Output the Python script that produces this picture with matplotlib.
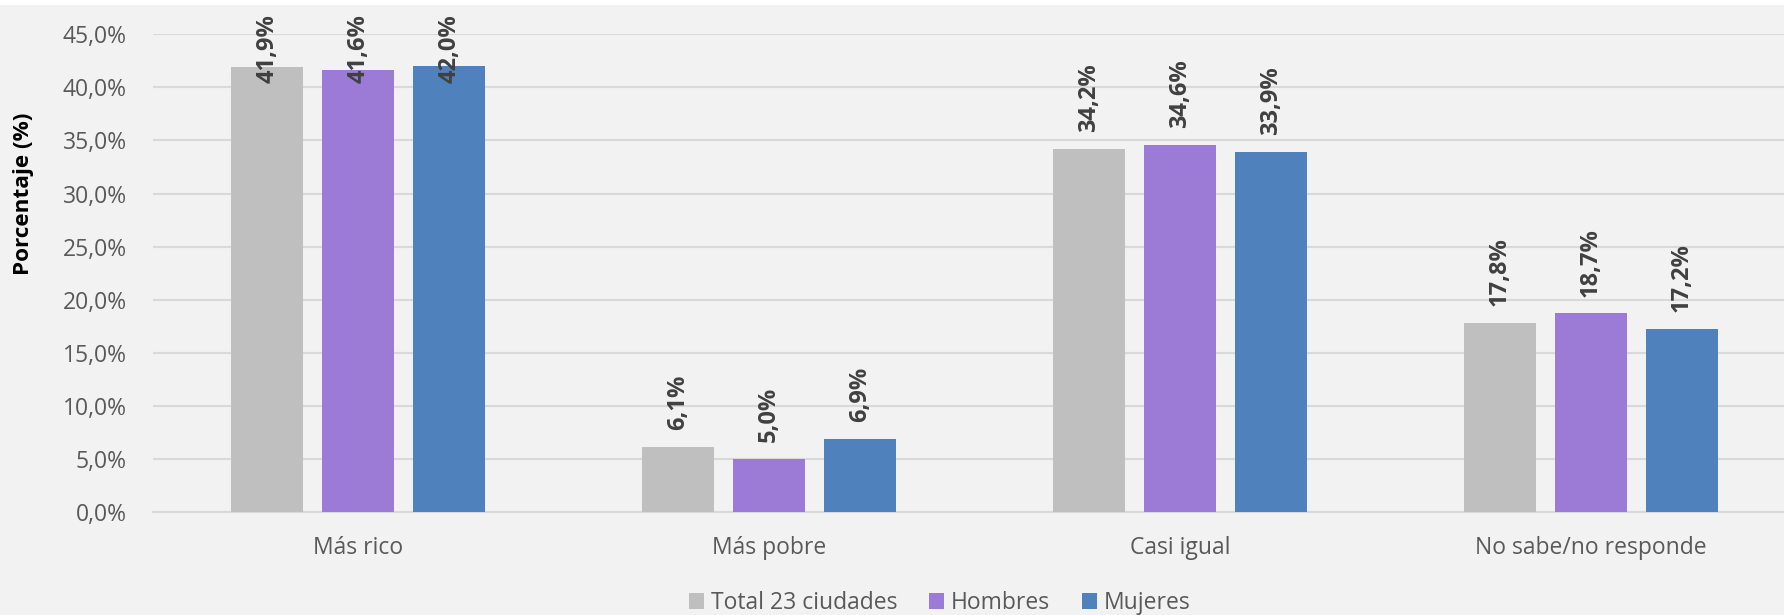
import matplotlib
matplotlib.use("Agg")
import matplotlib.pyplot as plt
import numpy as np
from matplotlib.patches import Rectangle

categories = ["Más rico", "Más pobre", "Casi igual", "No sabe/no responde"]
series_names = ["Total 23 ciudades", "Hombres", "Mujeres"]
total = [41.9, 6.1, 34.2, 17.8]
hombres = [41.6, 5.0, 34.6, 18.7]
mujeres = [42.0, 6.9, 33.9, 17.2]
yticks = [0, 5, 10, 15, 20, 25, 30, 35, 40, 45]

colors = ["#BFBFBF", "#9C7BD6", "#4F81BD"]
bg = "#F2F2F2"
txt = "#595959"

plt.rcParams['font.family'] = ['Open Sans', 'DejaVu Sans']

W, H = 1784, 615
fig = plt.figure(figsize=(W/100, H/100), dpi=100, facecolor=bg)
fig.patches.append(Rectangle((0, 1 - 5/H), 1, 5/H, transform=fig.transFigure,
                             facecolor="white", edgecolor="none", zorder=-1))

left_px, right_px, top_px, bot_px = 153, 1796, 34.3, 512
ax = fig.add_axes([left_px/W, (H-bot_px)/H, (right_px-left_px)/W, (bot_px-top_px)/H])
ax.set_facecolor(bg)

x = np.arange(len(categories))
bw = 0.175
step = 0.2216
data = [total, hombres, mujeres]
for i, (vals, name, c) in enumerate(zip(data, series_names, colors)):
    xs = x + (i - 1) * step
    ax.bar(xs, vals, width=bw, color=c, label=name, zorder=3)
    for xi, v in zip(xs, vals):
        lab = f"{v:.1f}%".replace(".", ",")
        if v + 1.6 + 6.4 > 46.9:
            ax.text(xi, 46.9, lab, rotation=90, ha="center", va="top",
                    fontsize=17, fontweight="bold", color="#404040", zorder=5, clip_on=False)
        else:
            ax.text(xi, v + 1.6, lab, rotation=90, ha="center", va="bottom",
                    fontsize=17, fontweight="bold", color="#404040", zorder=5, clip_on=False)

ax.set_xlim(-0.5, len(categories) - 0.5)
ax.set_ylim(0, 45)
ax.set_yticks(yticks)
ax.set_yticklabels([f"{t:.1f}%".replace(".", ",") for t in yticks])
ax.set_xticks(x)
ax.set_xticklabels(categories)
ax.tick_params(axis="both", length=0, labelsize=16.5, colors=txt)
ax.tick_params(axis="y", pad=19)
ax.tick_params(axis="x", pad=17)
ax.grid(axis="y", color="#D9D9D9", linewidth=1.5, zorder=0)
for s in ["top", "right", "left"]:
    ax.spines[s].set_visible(False)
ax.spines["bottom"].set_color("#D9D9D9")
ax.spines["bottom"].set_linewidth(1.5)

ylab = fig.text(24/W, 1 - 194/H, "Porcentaje (%)", rotation=90, ha="center", va="center",
                fontsize=15.5, fontweight="bold", color="black")

# fit y-label length to about 162 px
fig.canvas.draw()
r = fig.canvas.get_renderer()
ext = ylab.get_window_extent(r)
ylab.set_fontsize(15.5 * 162 / ext.height)

leg = fig.legend(loc="center", bbox_to_anchor=(940/W, 1 - 603/H), ncol=3, frameon=False,
                 fontsize=16.5, handlelength=0.65, handleheight=0.65, handletextpad=0.3,
                 columnspacing=1.4, labelcolor=txt)

fig.savefig("out.png", dpi=100, facecolor=bg)
